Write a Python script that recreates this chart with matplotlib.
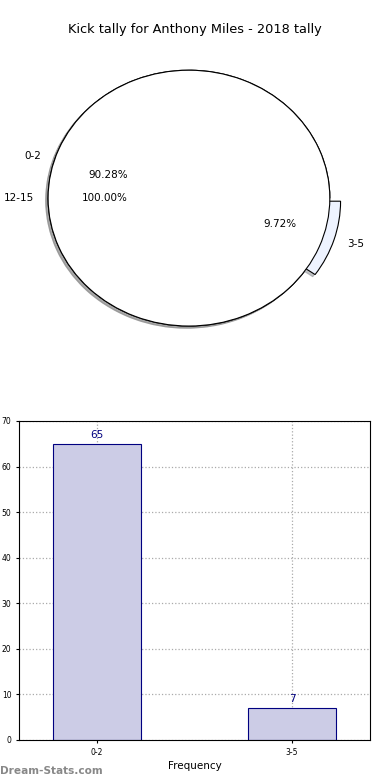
import numpy as np
import matplotlib.pyplot as plt

title = "Kick tally for Anthony Miles - 2018 tally"
categories = ['0-2', '3-5']
counts = [65, 7]
extra_label = ['12-15']
extra_counts = [1]

fig = plt.figure(figsize=(3.9, 7.8), dpi=100)
fig.text(0.5, 0.962, title, ha='center', va='center', fontsize=9.3)

shadow = {'ox': -0.012, 'oy': -0.012, 'shade': 0.45}

# pie: main slices, then the 12-15 circle drawn over it
ax1 = fig.add_axes([0.033, 0.541, 0.903, 0.41])
ax1.pie(counts, labels=categories, explode=[0, 0.08], colors=['white', '#eef3ff'],
        autopct='%.2f%%', startangle=0, shadow=shadow,
        wedgeprops={'edgecolor': 'black', 'linewidth': 0.8},
        textprops={'fontsize': 7.5})
ax1.pie(extra_counts, labels=extra_label, colors=['white'], autopct='%.2f%%',
        startangle=0, shadow=shadow,
        wedgeprops={'edgecolor': 'black', 'linewidth': 0.8},
        textprops={'fontsize': 7.5})
ax1.set_aspect('auto')
ax1.set_xlim(-1.25, 1.25)
ax1.set_ylim(-1.25, 1.25)
ax1.axis('off')

# bar chart
ax2 = fig.add_axes([0.049, 0.0513, 0.9, 0.409])
x = np.arange(len(categories))
bars = ax2.bar(x, counts, width=0.45, color='#cccce6', edgecolor='#000080', linewidth=0.8, zorder=2)
for b, v in zip(bars, counts):
    ax2.text(b.get_x() + b.get_width() / 2, v + 0.8, str(v), ha='center', va='bottom',
             color='#000080', fontsize=7.5)
ax2.set_xlim(-0.4, 1.4)
ax2.set_ylim(0, 70)
ax2.set_yticks(range(0, 71, 10))
ax2.set_xticks(x)
ax2.set_xticklabels(categories)
ax2.tick_params(labelsize=5.5, length=2)
ax2.grid(True, linestyle=':', color='#aaaaaa', linewidth=0.9, zorder=0)
ax2.set_axisbelow(True)
ax2.set_xlabel('Frequency', fontsize=7.5, labelpad=3)

fig.text(0.0, 0.012, 'Dream-Stats.com', fontsize=7.6, color='#888888', fontweight='bold',
         ha='left', va='center')

plt.savefig('out.png', dpi=100)
